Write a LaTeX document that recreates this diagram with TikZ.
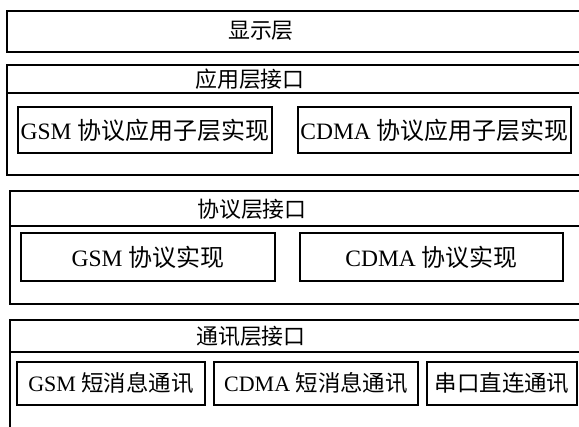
\documentclass[tikz,border=0pt]{standalone}
\usepackage{fontspec}
\setmainfont{Liberation Serif}
\newfontfamily\cjk[Scale=1.02]{Noto Sans CJK SC}
\begin{document}
\begin{tikzpicture}[x=1pt,y=-1pt,
  layerbox/.style={draw=black,line width=1.5pt,inner sep=0pt},
  implbox/.style={draw=black,line width=1.5pt,inner sep=0pt},
  lbl/.style={font=\fontsize{21.5}{24}\selectfont,inner sep=0pt},
  biglbl/.style={font=\fontsize{23.5}{26}\selectfont,inner sep=0pt},
  smalllbl/.style={font=\fontsize{22}{25}\selectfont,inner sep=0pt},
  sepline/.style={line width=1.2pt}]
\useasboundingbox (0,0) rectangle (579,427);
\clip (0,0) rectangle (579,427);
\fill[white] (0,0) rectangle (579,427);

% display layer
\node[layerbox,minimum width=583pt,minimum height=41pt] (disp) at (298.5,31.5) {};
\node[lbl] (dispt) at (261,31) {\cjk 显示层};

% application layer
\node[layerbox,minimum width=583pt,minimum height=110pt] (app) at (298.5,120) {};
\coordinate (appsepL) at (7,93);
\coordinate (appsepR) at (590,93);
\draw[sepline] (appsepL) -- (appsepR);
\node[lbl] (appt) at (250,79) {\cjk 应用层接口};
\node[implbox,minimum width=254pt,minimum height=46pt] (appgsm) at (145,130) {};
\node[biglbl] (appgsmt) at (appgsm.center) {GSM {\cjk 协议应用子层实现}};
\node[implbox,minimum width=273pt,minimum height=46pt] (appcdma) at (434.5,130) {};
\node[biglbl] (appcdmat) at (appcdma.center) {CDMA {\cjk 协议应用子层实现}};

% protocol layer
\node[layerbox,minimum width=580pt,minimum height=113pt] (proto) at (300,247.5) {};
\coordinate (protosepL) at (10,226);
\coordinate (protosepR) at (590,226);
\draw[sepline] (protosepL) -- (protosepR);
\node[lbl] (protot) at (252,209) {\cjk 协议层接口};
\node[implbox,minimum width=254pt,minimum height=48pt] (progsm) at (148,257) {};
\node[biglbl] (progsmt) at (progsm.center) {GSM {\cjk 协议实现}};
\node[implbox,minimum width=263pt,minimum height=48pt] (procdma) at (431.5,257) {};
\node[biglbl] (procdmat) at (procdma.center) {CDMA {\cjk 协议实现}};

% communication layer
\node[layerbox,minimum width=580pt,minimum height=130pt] (comm) at (300,385) {};
\coordinate (commsepL) at (10,352);
\coordinate (commsepR) at (590,352);
\draw[sepline] (commsepL) -- (commsepR);
\node[lbl] (commt) at (251,336) {\cjk 通讯层接口};
\node[implbox,minimum width=188pt,minimum height=43pt] (comgsm) at (111,383.5) {};
\node[smalllbl] (comgsmt) at (comgsm.center) {GSM {\cjk 短消息通讯}};
\node[implbox,minimum width=204pt,minimum height=43pt] (comcdma) at (316,383.5) {};
\node[smalllbl] (comcdmat) at (comcdma.center) {CDMA {\cjk 短消息通讯}};
\node[implbox,minimum width=150pt,minimum height=43pt] (comser) at (502,383.5) {};
\node[smalllbl] (comsert) at (comser.center) {\cjk 串口直连通讯};
\end{tikzpicture}
\end{document}
